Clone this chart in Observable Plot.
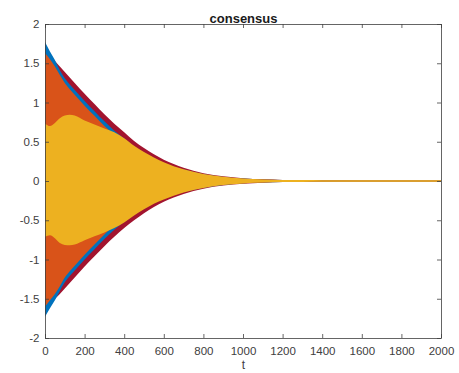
<!DOCTYPE html>
<html>
<head>
<meta charset="utf-8">
<script src="https://cdn.jsdelivr.net/npm/d3@7"></script>
<script src="https://cdn.jsdelivr.net/npm/@observablehq/plot@0.6"></script>
<style>
  html, body { margin: 0; padding: 0; background: #fff; }
</style>
</head>
<body>
<div id="chart"></div>
<script>
const title = "consensus";
const xLabel = "t";
const t = [0, 25, 50, 75, 100, 125, 150, 200, 250, 300, 350, 400, 450, 500, 550, 600, 700, 800, 900, 1000, 1100, 1200, 1300, 1400, 1600, 1800, 2000];

const redUp = [1.62, 1.58, 1.53, 1.46, 1.39, 1.32, 1.25, 1.11, 0.98, 0.85, 0.73, 0.62, 0.51, 0.42, 0.34, 0.27, 0.17, 0.10, 0.06, 0.036, 0.022, 0.014, 0.010, 0.008, 0.007, 0.006, 0.006];
const redLo = [-1.58, -1.55, -1.50, -1.44, -1.37, -1.30, -1.23, -1.09, -0.96, -0.83, -0.71, -0.60, -0.50, -0.41, -0.33, -0.265, -0.165, -0.098, -0.058, -0.035, -0.021, -0.014, -0.010, -0.008, -0.007, -0.006, -0.006];
const blueUp = [1.77, 1.65, 1.54, 1.41, 1.31, 1.23, 1.16, 1.02, 0.89, 0.76, 0.64, 0.54, 0.44, 0.36, 0.29, 0.23, 0.145, 0.087, 0.052, 0.031, 0.019, 0.012, 0.009, 0.007, 0.006, 0.005, 0.005];
const blueLo = [-1.73, -1.62, -1.52, -1.40, -1.29, -1.21, -1.14, -1.00, -0.87, -0.74, -0.62, -0.52, -0.43, -0.35, -0.28, -0.22, -0.14, -0.085, -0.05, -0.03, -0.019, -0.012, -0.009, -0.007, -0.006, -0.005, -0.005];
const orangeUp = [1.63, 1.55, 1.46, 1.35, 1.25, 1.17, 1.10, 0.96, 0.83, 0.70, 0.59, 0.50, 0.41, 0.33, 0.27, 0.21, 0.13, 0.08, 0.048, 0.029, 0.018, 0.011, 0.008, 0.006, 0.005, 0.005, 0.005];
const orangeLo = [-1.60, -1.52, -1.44, -1.34, -1.23, -1.15, -1.08, -0.94, -0.81, -0.68, -0.57, -0.48, -0.40, -0.32, -0.26, -0.20, -0.125, -0.078, -0.046, -0.028, -0.018, -0.011, -0.008, -0.006, -0.005, -0.005, -0.005];
const yellowUp = [0.73, 0.70, 0.74, 0.80, 0.835, 0.845, 0.835, 0.77, 0.72, 0.67, 0.62, 0.545, 0.45, 0.37, 0.30, 0.24, 0.15, 0.09, 0.054, 0.032, 0.02, 0.014, 0.012, 0.011, 0.010, 0.010, 0.010];
const yellowLo = [-0.71, -0.69, -0.73, -0.79, -0.815, -0.82, -0.81, -0.755, -0.705, -0.655, -0.60, -0.53, -0.44, -0.36, -0.29, -0.235, -0.145, -0.088, -0.052, -0.031, -0.02, -0.014, -0.012, -0.011, -0.010, -0.010, -0.010];

const xTicks = [0, 200, 400, 600, 800, 1000, 1200, 1400, 1600, 1800, 2000];
const yTicks = [-2, -1.5, -1, -0.5, 0, 0.5, 1, 1.5, 2];

const seriesList = [
  {name: "red", up: redUp, lo: redLo, color: "#A2142F"},
  {name: "blue", up: blueUp, lo: blueLo, color: "#0072BD"},
  {name: "orange", up: orangeUp, lo: orangeLo, color: "#D95319"},
  {name: "yellow", up: yellowUp, lo: yellowLo, color: "#EDB120"}
];

const W = 459, H = 373;
const mL = 45, mR = 18, mT = 24, mB = 35;
const frameW = W - mL - mR, frameH = H - mT - mB;
const tickLen = 4;
const axisColor = "#404040";

const areas = seriesList.map(s =>
  Plot.areaY(t.map((tv, i) => ({t: tv, lo: s.lo[i], hi: s.up[i]})), {
    x: "t", y1: "lo", y2: "hi", fill: s.color, curve: "monotone-x"
  })
);

const chart = Plot.plot({
  width: W,
  height: H,
  marginLeft: mL,
  marginRight: mR,
  marginTop: mT,
  marginBottom: mB,
  style: {fontFamily: "'Liberation Sans', Arial, Helvetica, sans-serif", fontSize: "11.5px", color: axisColor, background: "#fff"},
  x: {domain: [0, 2000], ticks: xTicks},
  y: {domain: [-2, 2], ticks: yTicks},
  marks: [
    ...areas,
    Plot.axisX(xTicks, {anchor: "bottom", tickSize: 0, tickPadding: 8, label: null, tickFormat: d => String(d), fill: axisColor}),
    Plot.axisY(yTicks, {anchor: "left", tickSize: 0, tickPadding: 6, label: null, tickFormat: d => String(d), fill: axisColor}),
    Plot.tickX(xTicks, {x: d => d, insetTop: frameH - tickLen, stroke: axisColor, strokeWidth: 0.8}),
    Plot.tickX(xTicks, {x: d => d, insetBottom: frameH - tickLen, stroke: axisColor, strokeWidth: 0.8}),
    Plot.tickY(yTicks, {y: d => d, insetRight: frameW - tickLen, stroke: axisColor, strokeWidth: 0.8}),
    Plot.tickY(yTicks, {y: d => d, insetLeft: frameW - tickLen, stroke: axisColor, strokeWidth: 0.8}),
    Plot.frame({stroke: axisColor, strokeWidth: 0.8}),
    Plot.text([title], {frameAnchor: "top", dy: -11, text: d => d, fontWeight: "bold", fontSize: 13, fill: "#1a1a1a"}),
    Plot.text([xLabel], {frameAnchor: "bottom", dy: 30, text: d => d, fontSize: 12, fill: axisColor})
  ]
});

document.getElementById("chart").appendChild(chart);
</script>
</body>
</html>
